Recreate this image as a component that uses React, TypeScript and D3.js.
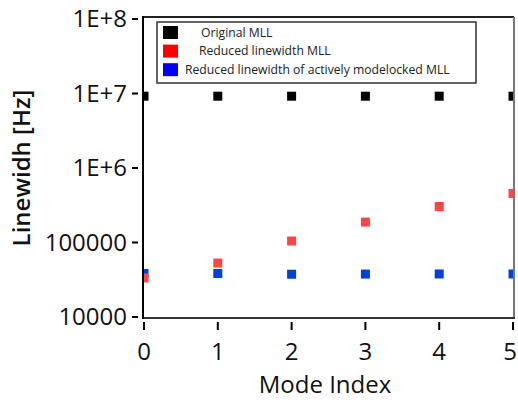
import * as d3 from 'd3';

const modeIndex = [0, 1, 2, 3, 4, 5];
const originalMLL = [9.2e6, 9.2e6, 9.2e6, 9.2e6, 9.2e6, 9.2e6];
const reducedMLL = [33400, 53000, 104700, 188000, 304000, 455000];
const activeMLL = [38400, 38400, 37500, 37700, 37800, 37800];

const yTicks = [1e4, 1e5, 1e6, 1e7, 1e8];
const yTickLabels = ['10000', '100000', '1E+6', '1E+7', '1E+8'];

const legendLabels = ['Original MLL', 'Reduced linewidth MLL', 'Reduced linewidth of actively modelocked MLL'];

const W = 518;
const H = 402;
const FONT = '"Open Sans", "DejaVu Sans", sans-serif';

export default function App() {
  const plot = { left: 143, right: 514, top: 17, bottom: 318 };

  const x = d3.scaleLinear().domain([0, 5]).range([144, 513]);
  const y = d3.scaleLog().domain([1e4, 1e8]).range([317, 19]);

  const series = [
    { values: originalMLL, color: '#000000', legend: '#000000' },
    { values: reducedMLL, color: '#ff4646', legend: '#ff0000' },
    { values: activeMLL, color: '#0042d6', legend: '#0000ff' },
  ];
  // blue goes under red at mode 0
  const drawOrder = [0, 2, 1];

  const ms = 9;
  const legendIndent = [44, 42, 28];

  return (
    <svg width={W} height={H} style={{ position: 'absolute', left: 0, top: 0, background: '#fff' }}>
      <defs>
        <clipPath id="plot-clip">
          <rect x={plot.left} y={plot.top} width={plot.right - plot.left} height={plot.bottom - plot.top} />
        </clipPath>
      </defs>

      {/* markers */}
      <g clipPath="url(#plot-clip)">
        {drawOrder.map((si) =>
          series[si].values.map((v, i) => (
            <rect
              key={`${si}-${i}`}
              x={x(modeIndex[i]) - ms / 2}
              y={y(v) - ms / 2}
              width={ms}
              height={ms}
              fill={series[si].color}
            />
          ))
        )}
      </g>

      {/* frame */}
      <line x1={plot.left} x2={plot.right} y1={plot.top} y2={plot.top} stroke="#222" strokeWidth={2} />
      <line x1={plot.right} x2={plot.right} y1={plot.top} y2={plot.bottom} stroke="#777" strokeWidth={2} />
      <line x1={plot.left} x2={plot.right + 1} y1={plot.bottom} y2={plot.bottom} stroke="#333" strokeWidth={2} />
      <line x1={plot.left} x2={plot.left} y1={plot.top - 1} y2={plot.bottom + 1} stroke="#000" strokeWidth={2} />

      {/* y axis */}
      {yTicks.map((t, i) => (
        <g key={t}>
          <line x1={132} x2={138} y1={y(t)} y2={y(t)} stroke="#000" strokeWidth={2} />
          <text x={127} y={y(t)} dy="0.35em" textAnchor="end" fontFamily={FONT} fontSize={24} fill="#111">
            {yTickLabels[i]}
          </text>
        </g>
      ))}

      {/* x axis */}
      {modeIndex.map((m) => (
        <g key={m}>
          <line x1={x(m)} x2={x(m)} y1={322} y2={330} stroke="#000" strokeWidth={2} />
          <text x={Math.min(x(m), 510)} y={360} textAnchor="middle" fontFamily={FONT} fontSize={24} fill="#111">
            {m}
          </text>
        </g>
      ))}

      <text x={325} y={393} textAnchor="middle" fontFamily={FONT} fontSize={24} fill="#111">
        Mode Index
      </text>
      <text
        transform={`translate(30,${168}) rotate(-90)`}
        textAnchor="middle"
        fontFamily={FONT}
        fontSize={24}
        fontWeight={600}
        fill="#111"
      >
        Linewidh [Hz]
      </text>

      {/* legend */}
      <rect x={157} y={22} width={319} height={61} fill="#fff" stroke="#333" strokeWidth={1.5} />
      {legendLabels.map((lab, i) => {
        const cy = 32.5 + i * 18.6;
        return (
          <g key={lab}>
            <rect x={163} y={cy - 6.5} width={15} height={13} fill={series[i].legend} />
            <text x={157 + legendIndent[i]} y={cy} dy="0.35em" fontFamily={FONT} fontSize={12.2} fill="#222">
              {lab}
            </text>
          </g>
        );
      })}
    </svg>
  );
}
